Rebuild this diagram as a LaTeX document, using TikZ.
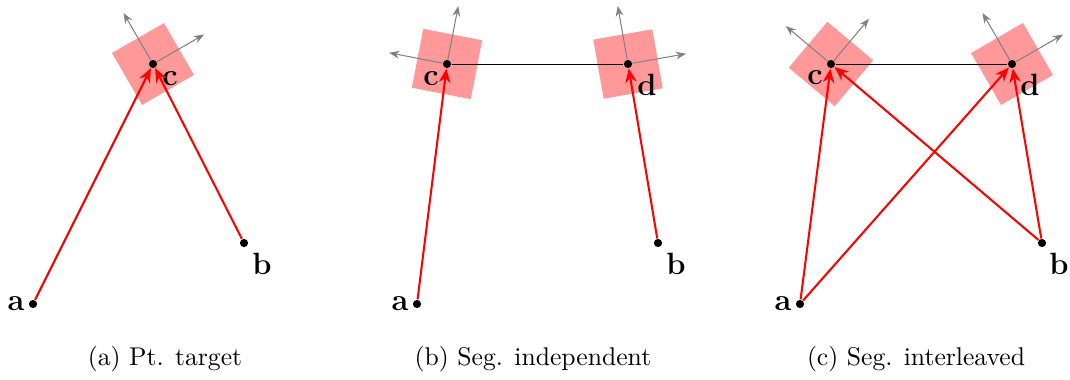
\documentclass[tikz,border=0pt]{standalone}
\usepackage{tikz}
\usetikzlibrary{arrows.meta, backgrounds}

\begin{document}
\begin{tikzpicture}[
  x=0.39pt, y=-0.39pt,
  dotpt/.style={circle, fill=black, inner sep=0pt, minimum size=3.2pt},
  lbl/.style={font=\large\bfseries, inner sep=0pt},
  frame/.style={rectangle, fill=red!40, inner sep=0pt, minimum size=23.4pt},
  axis/.style={draw=gray, line width=0.4pt, -{Stealth[length=4pt, width=3pt]}},
  pull/.style={draw=red, line width=0.8pt, -{Stealth[length=5.5pt, width=4.5pt]}},
  seg/.style={draw=black, line width=0.3pt},
  captext/.style={font=\normalsize, inner sep=0pt}
]
\useasboundingbox (0,0) rectangle (1070,379);

% (a) point target
\node[dotpt] (a1) at (33,304) {};
\node[dotpt] (b1) at (244,243) {};
\node[dotpt] (c1) at (153,64) {};
\node[lbl] (la1) at (16,304) {a};
\node[lbl] (lb1) at (262,264) {b};
\node[lbl] (lc1) at (170,79) {c};

% (b) segment, independent
\node[dotpt] (a2) at (417,304) {};
\node[dotpt] (b2) at (658,243) {};
\node[dotpt] (c2) at (447,64) {};
\node[dotpt] (d2) at (628,64) {};
\node[lbl] (la2) at (400,304) {a};
\node[lbl] (lb2) at (676,264) {b};
\node[lbl] (lc2) at (431,79) {c};
\node[lbl] (ld2) at (647,85) {d};

% (c) segment, interleaved
\node[dotpt] (a3) at (800,304) {};
\node[dotpt] (b3) at (1042,243) {};
\node[dotpt] (c3) at (831,64) {};
\node[dotpt] (d3) at (1012,64) {};
\node[lbl] (la3) at (783,304) {a};
\node[lbl] (lb3) at (1059,264) {b};
\node[lbl] (lc3) at (815,78) {c};
\node[lbl] (ld3) at (1030,85) {d};

% frames and their axes
\begin{scope}[on background layer]
  \node[frame, rotate=30] (s1) at (c1) {};
  \node[frame, rotate=-11] (s2) at (c2) {};
  \node[frame, rotate=10] (s3) at (d2) {};
  \node[frame, rotate=50] (s4) at (c3) {};
  \node[frame, rotate=30] (s5) at (d3) {};
  \draw[axis] (c1) -- ++(120:23pt);
  \draw[axis] (c1) -- ++(30:23pt);
  \draw[axis] (c2) -- ++(79:23pt);
  \draw[axis] (c2) -- ++(169:23pt);
  \draw[axis] (d2) -- ++(100:23pt);
  \draw[axis] (d2) -- ++(10:23pt);
  \draw[axis] (c3) -- ++(140:23pt);
  \draw[axis] (c3) -- ++(50:23pt);
  \draw[axis] (d3) -- ++(120:23pt);
  \draw[axis] (d3) -- ++(30:23pt);
\end{scope}

% segments
\draw[seg] (c2) -- (d2);
\draw[seg] (c3) -- (d3);

% pulls
\draw[pull] (a1) -- (c1);
\draw[pull] (b1) -- (c1);
\draw[pull] (a2) -- (c2);
\draw[pull] (b2) -- (d2);
\draw[pull] (a3) -- (c3);
\draw[pull] (a3) -- (d3);
\draw[pull] (b3) -- (c3);
\draw[pull] (b3) -- (d3);

% captions
\node[captext] (ca) at (165,359) {(a) Pt. target};
\node[captext] (cb) at (533,359) {(b) Seg. independent};
\node[captext] (cc) at (916,359) {(c) Seg. interleaved};

\end{tikzpicture}
\end{document}
